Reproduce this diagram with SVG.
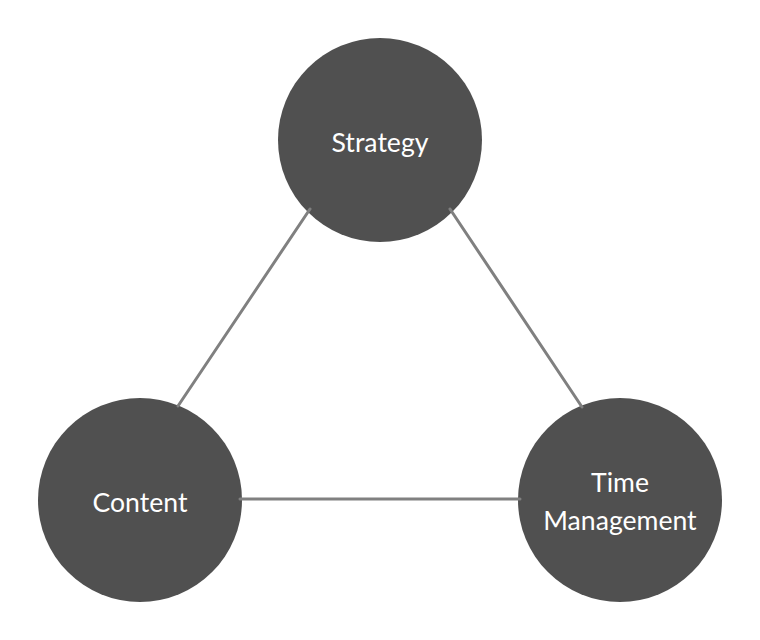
<svg xmlns="http://www.w3.org/2000/svg" width="760" height="640" viewBox="0 0 760 640">
<style>
.node{fill:#505050;}
.lbl{fill:#ffffff;font-family:Lato,"Liberation Sans",sans-serif;font-size:26.6px;text-anchor:middle;}
.edge{stroke:#808080;stroke-width:3;stroke-linecap:round;fill:none;}
</style>
<rect width="760" height="640" fill="#ffffff"/>
<g id="strategy">
<circle class="node" cx="380" cy="140" r="102"/>
<text class="lbl" x="380" y="152">Strategy</text>
</g>
<g id="content">
<circle class="node" cx="140" cy="500" r="102"/>
<text class="lbl" x="140" y="512">Content</text>
</g>
<g id="time-management">
<circle class="node" cx="620" cy="500" r="102"/>
<text class="lbl" x="620" y="492">Time</text>
<text class="lbl" x="620" y="530">Management</text>
</g>
<g id="connectors">
<line class="edge" x1="310" y1="209" x2="178" y2="406"/>
<line class="edge" x1="450" y1="209" x2="582" y2="407"/>
<line class="edge" x1="240" y1="499" x2="520" y2="499"/>
</g>
</svg>
